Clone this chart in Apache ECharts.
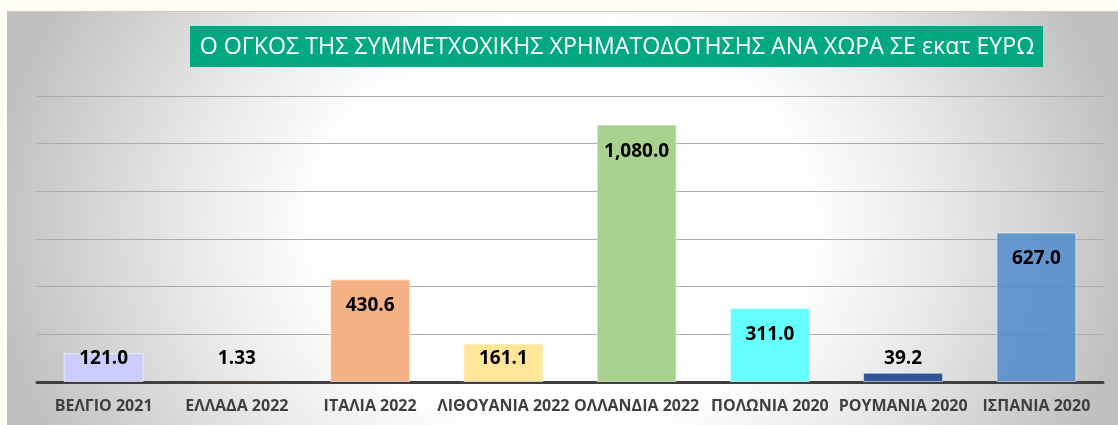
<!DOCTYPE html>
<html>
<head>
<meta charset="utf-8">
<script src="https://cdn.jsdelivr.net/npm/echarts@6/dist/echarts.min.js"></script>
<style>
  html, body { margin: 0; padding: 0; background: #fffdf5; }
  #wrap { position: relative; width: 1118px; height: 425px; overflow: hidden; }
  #panel { position: absolute; left: 7px; top: 11px; width: 1111px; height: 414px;
    border-top: 1px solid #c8c8c8;
    background: radial-gradient(ellipse 52% 115% at 50% 52%, #ffffff 42%, #ececec 62%, #bfbfbf 100%); }
  #chart { position: absolute; left: 0; top: 0; width: 1118px; height: 425px; }
</style>
</head>
<body>
<div id="wrap">
  <div id="panel"></div>
  <div id="chart"></div>
</div>
<script>
const titleText = 'Ο ΟΓΚΟΣ ΤΗΣ ΣΥΜΜΕΤΧΟΧΙΚΗΣ ΧΡΗΜΑΤΟΔΟΤΗΣΗΣ ΑΝΑ ΧΩΡΑ ΣΕ εκατ ΕΥΡΩ';
const categories = ['ΒΕΛΓΙΟ 2021', 'ΕΛΛΑΔΑ 2022', 'ΙΤΑΛΙΑ 2022', 'ΛΙΘΟΥΑΝΙΑ 2022', 'ΟΛΛΑΝΔΙΑ 2022', 'ΠΟΛΩΝΙΑ 2020', 'ΡΟΥΜΑΝΙΑ 2020', 'ΙΣΠΑΝΙΑ 2020'];
const values = [121.0, 1.33, 430.6, 161.1, 1080.0, 311.0, 39.2, 627.0];
const decimals = [1, 2, 1, 1, 1, 1, 1, 1];
const barColors = ['#ccccff', '#c55a11', '#f4b183', '#ffe699', '#a9d18e', '#66ffff', '#2f5597', 'rgba(74,137,204,0.82)'];
const yTicks = { min: 0, max: 1200, interval: 200 };

const fmt = (v, d) => v.toLocaleString('en-US', { minimumFractionDigits: d, maximumFractionDigits: d });

const chart = echarts.init(document.getElementById('chart'), null, { renderer: 'canvas' });
const data = values.map((v, i) => {
  const short = v < 200;
  return {
    value: v,
    itemStyle: { color: barColors[i], borderWidth: v < 5 ? 0 : 1 },
    label: short
      ? { position: 'insideBottom', distance: 14 }
      : { position: 'insideTop', distance: 17 }
  };
});

chart.setOption({
  backgroundColor: 'transparent',
  animation: false,
  graphic: [
    { type: 'rect', left: 190, top: 26, shape: { width: 853, height: 41 }, style: { fill: '#02a882' }, z: 10 },
    { type: 'text', x: 617, y: 47, style: { text: titleText, fill: '#ffffff', font: '23.2px "Open Sans", sans-serif', align: 'center', verticalAlign: 'middle' }, z: 11 }
  ],
  grid: { left: 37, right: 15, top: 96, bottom: 43 },
  xAxis: {
    type: 'category',
    data: categories,
    axisLine: { lineStyle: { color: '#404040', width: 3 } },
    axisTick: { show: false },
    axisLabel: { interval: 0, color: '#404040', fontWeight: 'bold', fontSize: 16, fontFamily: 'Open Sans', margin: 16 }
  },
  yAxis: {
    type: 'value',
    min: yTicks.min, max: yTicks.max, interval: yTicks.interval,
    axisLabel: { show: false },
    axisLine: { show: false },
    axisTick: { show: false },
    splitLine: { lineStyle: { color: '#ababab', width: 1 } }
  },
  series: [{
    type: 'bar',
    data: data,
    barWidth: 80,
    itemStyle: { borderColor: 'rgba(255,255,255,0.55)' },
    label: {
      show: true,
      color: '#000000',
      fontWeight: 'bold',
      fontSize: 19,
      fontFamily: 'Open Sans',
      formatter: p => fmt(p.value, decimals[p.dataIndex])
    }
  }]
});
</script>
</body>
</html>
